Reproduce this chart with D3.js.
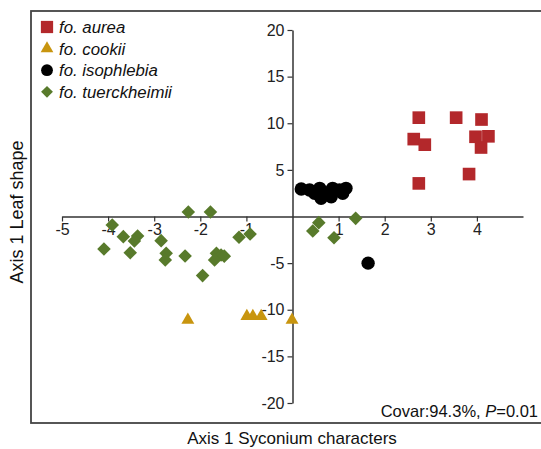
<!DOCTYPE html>
<html><head><meta charset="utf-8">
<script src="https://cdn.jsdelivr.net/npm/d3@7"></script>
<style>body{margin:0;background:#fff}svg{display:block}text{font-family:"Liberation Sans",Arial,sans-serif}</style>
</head><body><svg id="c" width="541" height="449"></svg>
<script>
const xTicks = [-5,-4,-3,-2,-1,1,2,3,4];
const yTicks = [20,15,10,5,-5,-10,-15,-20];
const groups = ["fo. aurea","fo. cookii","fo. isophlebia","fo. tuerckheimii"];
const colors = ["#b3282b","#c8950f","#000000","#587a2b"];
const aureaX = [2.74,3.55,4.10,2.63,2.87,3.97,4.25,4.09,3.83,2.74];
const aureaY = [10.6,10.6,10.4,8.3,7.7,8.55,8.6,7.4,4.55,3.55];
const cookiiX = [-2.27,-0.99,-0.86,-0.68,-0.01];
const cookiiY = [-11.1,-10.7,-10.7,-10.7,-11.1];
const isoX = [0.19,0.37,0.48,0.59,0.62,0.73,0.84,0.87,1.02,1.09,1.16,1.64];
const isoY = [2.95,2.84,2.49,3.02,1.95,2.49,2.12,3.02,2.84,2.49,3.02,-5.0];
const tuerX = [-2.26,-1.78,-3.91,-3.67,-3.36,-3.43,-4.09,-3.52,-2.85,-2.74,-2.76,-2.33,-1.95,-1.16,-0.92,-1.65,-1.55,-1.69,-1.48,0.57,0.44,0.90,1.37];
const tuerY = [0.48,0.48,-0.91,-2.16,-2.09,-2.63,-3.48,-3.88,-2.59,-3.95,-4.66,-4.23,-6.34,-2.23,-1.88,-3.95,-4.13,-4.66,-4.25,-0.66,-1.55,-2.27,-0.2];
const seriesX = [aureaX,cookiiX,isoX,tuerX];
const seriesY = [aureaY,cookiiY,isoY,tuerY];

const shapes = [d3.symbolSquare, d3.symbolTriangle, d3.symbolCircle, d3.symbolSquare];
const sizes = [160,72,140,92];
const rot = [0,0,0,45];

const svg = d3.select("#c");
svg.append("rect").attr("x",31).attr("y",11).attr("width",520).attr("height",412)
  .attr("fill","none").attr("stroke","#444").attr("stroke-width",1.8);

const x = d3.scaleLinear().domain([-5,5]).range([62,523]);
const y = d3.scaleLinear().domain([-20,20]).range([403,30]);

const fmt = d => String(d);
const xa = svg.append("g").attr("transform",`translate(0,${y(0)})`)
  .call(d3.axisBottom(x).tickValues(xTicks).tickSize(5).tickSizeOuter(0).tickFormat(fmt));
const ya = svg.append("g").attr("transform",`translate(${x(0)},0)`)
  .call(d3.axisLeft(y).tickValues(yTicks).tickSize(5).tickSizeOuter(0).tickFormat(fmt));
[xa,ya].forEach(a=>{
  a.select(".domain").attr("stroke","#333").attr("stroke-width",1.5);
  a.selectAll(".tick line").attr("stroke","#333").attr("stroke-width",1.2);
  a.selectAll(".tick text").attr("font-size",16).attr("fill","#222").style("font-family","'Liberation Sans',Arial,sans-serif");
});
xa.selectAll(".tick text").attr("y",5).attr("dy","0.85em");
ya.selectAll(".tick text").attr("x",-8);

seriesX.forEach((xs,i)=>{
  svg.append("g").selectAll("path").data(xs.map((v,j)=>[v,seriesY[i][j]])).join("path")
    .attr("transform",d=>`translate(${x(d[0])},${y(d[1])}) rotate(${rot[i]})`)
    .attr("d",d3.symbol().type(shapes[i]).size(sizes[i]))
    .attr("fill",colors[i]);
});

const lg = svg.append("g");
const lsz = [150,70,110,70];
groups.forEach((g,i)=>{
  const cy = 27 + i*21.6;
  lg.append("path").attr("transform",`translate(47,${cy}) rotate(${rot[i]})`)
    .attr("d",d3.symbol().type(shapes[i]).size(lsz[i])).attr("fill",colors[i]);
  lg.append("text").attr("x",59).attr("y",cy+6).attr("font-size",16.8).attr("font-style","italic").attr("fill","#111").text(g);
});

const cv = svg.append("text").attr("x",538).attr("y",417).attr("text-anchor","end").attr("font-size",16.5).attr("fill","#111");
cv.append("tspan").text("Covar:94.3%, ");
cv.append("tspan").attr("font-style","italic").text("P");
cv.append("tspan").text("=0.01");

svg.append("text").attr("x",292).attr("y",444).attr("text-anchor","middle").attr("font-size",17).attr("fill","#111").text("Axis 1 Syconium characters");
svg.append("text").attr("transform","translate(23,212) rotate(-90)").attr("text-anchor","middle").attr("font-size",18).attr("fill","#111").text("Axis 1 Leaf shape");
</script></body></html>
